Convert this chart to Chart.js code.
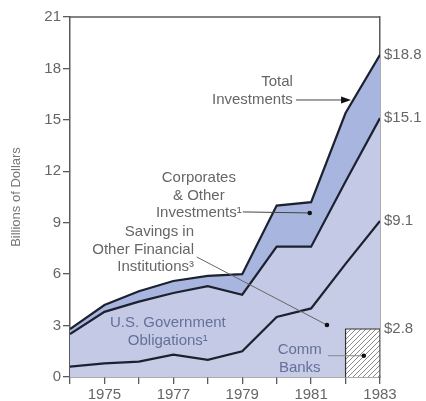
<!DOCTYPE html>
<html>
<head>
<meta charset="utf-8">
<script src="https://cdn.jsdelivr.net/npm/chart.js@4.4.0/dist/chart.umd.min.js"></script>
<style>
    html, body { margin: 0; padding: 0; background: #fff; }
    #wrap { width: 426px; height: 401px; }
</style>
</head>
<body>
<div id="wrap"><canvas id="investChart" width="426" height="401"></canvas></div>
<script>
// levels of the three stacked layers (billions of dollars)
var years = [1974, 1975, 1976, 1977, 1978, 1979, 1980, 1981, 1982, 1983];
var savingsLevel = [0.6, 0.8, 0.9, 1.3, 1.0, 1.5, 3.5, 4.0, 6.6, 9.1];
var govLevel = [2.5, 3.8, 4.4, 4.9, 5.3, 4.8, 7.6, 7.6, 11.4, 15.1];
var totalLevel = [2.8, 4.2, 5.0, 5.6, 5.9, 6.0, 10.0, 10.2, 15.4, 18.8];
var commBankYears = [1982, 1983];
var commBankValue = 2.8;
var endLabels = [2.8, 9.1, 15.1, 18.8];
var yTickValues = [0, 3, 6, 9, 12, 15, 18, 21];
var labelYears = [1975, 1977, 1979, 1981, 1983];

var axisColor = '#5a5a5a';
var textColor = '#666';
var lineColor = '#1c2130';
var font = 'Liberation Sans, Arial, sans-serif';

function toPoints(vals) {
    return years.map(function (y, i) { return { x: y, y: vals[i] }; });
}

// hatch for the commercial banks box
function hatch() {
    var c = document.createElement('canvas');
    c.width = 5; c.height = 5;
    var g = c.getContext('2d');
    g.fillStyle = '#fff';
    g.fillRect(0, 0, 5, 5);
    g.strokeStyle = '#8a8a8a';
    g.lineWidth = 1;
    g.beginPath();
    g.moveTo(0, 5); g.lineTo(5, 0);
    g.moveTo(-1, 1); g.lineTo(1, -1);
    g.moveTo(4, 6); g.lineTo(6, 4);
    g.stroke();
    return g.createPattern(c, 'repeat');
}

var ctx = document.getElementById('investChart').getContext('2d');

var boxPoints = [
    { x: commBankYears[0], y: 0 },
    { x: commBankYears[0], y: commBankValue },
    { x: commBankYears[1], y: commBankValue },
    { x: commBankYears[1], y: 0 }
];

// text notes, anchored in data units
var notes = [
    { lines: ['Total', 'Investments'], x: 1980.47, y: 17.2, align: 'right', color: textColor },
    { lines: ['Corporates', '& Other', 'Investments\u00b9'], x: 1977.74, y: 11.6, align: 'center', color: textColor },
    { lines: ['Savings in', 'Other Financial', 'Institutions\u00b3'], x: 1977.6, y: 8.46, align: 'right', color: textColor },
    { lines: ['U.S. Government', 'Obligations\u00b9'], x: 1976.84, y: 3.15, align: 'center', color: '#65709a' },
    { lines: ['Comm', 'Banks'], x: 1980.67, y: 1.58, align: 'center', color: '#65709a' }
];
var leaders = [
    { from: [1979.02, 9.63], to: [1980.96, 9.57], color: '#444', dot: true },
    { from: [1977.68, 7.0], to: [1981.46, 3.03], color: '#666', dot: true },
    { from: [1981.49, 1.24], to: [1982.53, 1.24], color: '#888', dot: true },
    { from: [1980.56, 16.16], to: [1982.16, 16.16], color: '#444', arrow: true }
];

var notesPlugin = {
    id: 'notes',
    afterDatasetsDraw: function (chart) {
        var c = chart.ctx, xs = chart.scales.x, ys = chart.scales.y, a = chart.chartArea;
        c.save();
        // frame top edge
        c.strokeStyle = axisColor;
        c.lineWidth = 1.5;
        c.beginPath();
        c.moveTo(a.left, a.top);
        c.lineTo(a.right, a.top);
        c.stroke();

        leaders.forEach(function (l) {
            var x1 = xs.getPixelForValue(l.from[0]), y1 = ys.getPixelForValue(l.from[1]);
            var x2 = xs.getPixelForValue(l.to[0]), y2 = ys.getPixelForValue(l.to[1]);
            c.strokeStyle = l.color;
            c.lineWidth = 1;
            c.beginPath();
            c.moveTo(x1, y1);
            c.lineTo(l.arrow ? x2 - 7 : x2, y2);
            c.stroke();
            c.fillStyle = '#111';
            if (l.dot) {
                c.beginPath();
                c.arc(x2, y2, 2.3, 0, Math.PI * 2);
                c.fill();
            }
            if (l.arrow) {
                c.beginPath();
                c.moveTo(x2, y2);
                c.lineTo(x2 - 10, y2 - 3.5);
                c.lineTo(x2 - 10, y2 + 3.5);
                c.closePath();
                c.fill();
            }
        });

        c.font = '15px ' + font;
        c.textBaseline = 'middle';
        notes.forEach(function (n) {
            var px = xs.getPixelForValue(n.x), py = ys.getPixelForValue(n.y);
            c.fillStyle = n.color;
            c.textAlign = n.align;
            n.lines.forEach(function (t, i) {
                c.fillText(t, px, py + i * 17.5);
            });
        });
        c.restore();
    }
};

var chart = new Chart(ctx, {
    type: 'line',
    data: {
        datasets: [
            {
                label: 'Savings in Other Financial Institutions',
                data: toPoints(savingsLevel),
                fill: 'origin',
                backgroundColor: 'rgb(198,204,230)',
                borderColor: lineColor,
                borderWidth: 2.2
            },
            {
                label: 'U.S. Government Obligations',
                data: toPoints(govLevel),
                fill: '-1',
                backgroundColor: 'rgb(196,202,230)',
                borderColor: lineColor,
                borderWidth: 2.2
            },
            {
                label: 'Corporates & Other Investments',
                data: toPoints(totalLevel),
                fill: '-1',
                backgroundColor: 'rgb(168,182,223)',
                borderColor: lineColor,
                borderWidth: 2.2
            },
            {
                label: 'Comm Banks',
                data: boxPoints,
                fill: 'origin',
                order: -1,
                backgroundColor: hatch(),
                borderColor: '#333',
                borderWidth: 1.2
            }
        ]
    },
    options: {
        responsive: false,
        animation: false,
        devicePixelRatio: 1,
        layout: { padding: { top: 17, left: 0, right: 0, bottom: 0 } },
        elements: {
            point: { radius: 0, hoverRadius: 0 },
            line: { tension: 0 }
        },
        plugins: {
            legend: { display: false },
            tooltip: { enabled: false }
        },
        scales: {
            x: {
                type: 'linear',
                min: years[0],
                max: years[years.length - 1],
                afterFit: function (s) { s.height = 24; },
                afterBuildTicks: function (s) {
                    s.ticks = years.map(function (v) { return { value: v }; });
                },
                ticks: {
                    autoSkip: false,
                    maxRotation: 0,
                    padding: 2,
                    color: textColor,
                    font: { family: font, size: 15 },
                    callback: function (v) { return labelYears.indexOf(v) >= 0 ? String(v) : ''; }
                },
                grid: { drawOnChartArea: false, drawTicks: true, tickLength: 7, color: axisColor, lineWidth: 1.3 },
                border: { display: true, color: axisColor, width: 1.5 }
            },
            y: {
                min: 0,
                max: 21,
                afterFit: function (s) { s.width = 70; },
                afterBuildTicks: function (s) {
                    s.ticks = yTickValues.map(function (v) { return { value: v }; });
                },
                ticks: {
                    padding: 2,
                    color: textColor,
                    font: { family: font, size: 15 }
                },
                title: {
                    display: true,
                    text: 'Billions of Dollars',
                    color: '#777',
                    font: { family: font, size: 13 },
                    padding: { top: 9, bottom: 0 }
                },
                grid: { drawOnChartArea: false, drawTicks: true, tickLength: 7, color: axisColor, lineWidth: 1.3 },
                border: { display: true, color: axisColor, width: 1.5 }
            },
            y2: {
                position: 'right',
                min: 0,
                max: 21,
                afterFit: function (s) { s.width = 46; },
                afterBuildTicks: function (s) {
                    s.ticks = endLabels.map(function (v) { return { value: v }; });
                },
                ticks: {
                    padding: 4,
                    color: textColor,
                    font: { family: font, size: 15 },
                    callback: function (v) { return '$' + v.toFixed(1); }
                },
                grid: { display: false, drawTicks: false },
                border: { display: true, color: axisColor, width: 1.5 }
            }
        }
    },
    plugins: [notesPlugin]
});
</script>
</body>
</html>
